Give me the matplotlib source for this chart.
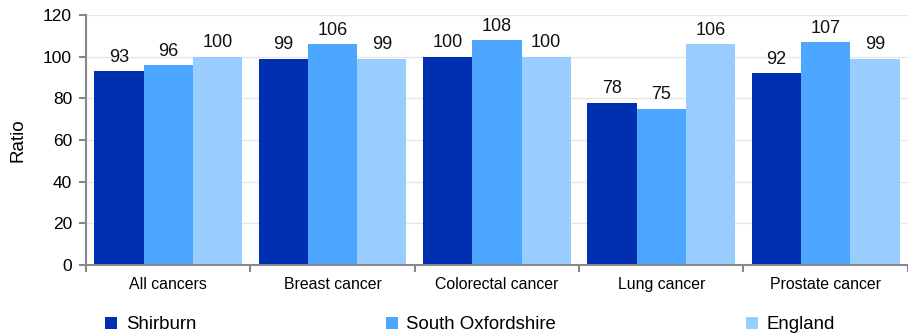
import numpy as np
import matplotlib.pyplot as plt
from matplotlib.ticker import FixedLocator

plt.rcParams['font.family'] = ['Liberation Sans', 'DejaVu Sans']

categories = ["All cancers", "Breast cancer", "Colorectal cancer", "Lung cancer", "Prostate cancer"]
shirburn = [93, 99, 100, 78, 92]
south_oxon = [96, 106, 108, 75, 107]
england = [100, 99, 100, 106, 99]

series = [("Shirburn", shirburn, "#002FB1"),
          ("South Oxfordshire", south_oxon, "#4DA6FF"),
          ("England", england, "#99CCFF")]

fig = plt.figure(figsize=(9.08, 3.35), dpi=100)
ax = fig.add_axes([0.0947, 0.209, 0.905, 0.746])

x = np.arange(len(categories))
w = 0.3
for i, (name, vals, col) in enumerate(series):
    bars = ax.bar(x + (i - 1) * w, vals, w, color=col, label=name, zorder=3)
    ax.bar_label(bars, labels=[str(v) for v in vals], padding=4, fontsize=13, color="#111111")

ax.set_xlim(-0.5, len(categories) - 0.5)
ax.set_ylim(0, 120)
ax.set_yticks(range(0, 121, 20))
ax.set_xticks(x)
ax.set_xticklabels(categories, fontsize=11.4)
ax.tick_params(axis="x", length=0, pad=9)
ax.xaxis.set_minor_locator(FixedLocator(np.arange(-0.5, len(categories), 1.0)))
ax.tick_params(axis="x", which="minor", length=5, color="#888888", width=1.5)
ax.tick_params(axis="y", labelsize=12.5, length=5, color="#888888", width=1.5, pad=5)

ax.grid(axis="y", color="#E6E6E6", linewidth=1, zorder=0)
for s in ["top", "right"]:
    ax.spines[s].set_visible(False)
for s in ["left", "bottom"]:
    ax.spines[s].set_color("#888888")
    ax.spines[s].set_linewidth(1.5)
ax.spines["bottom"].set_zorder(4)

ax.set_ylabel("Ratio", fontsize=13.5, labelpad=12)

fig.legend(loc="center left", bbox_to_anchor=(0.116, 0.03), ncol=3, frameon=False,
           fontsize=13.4, handlelength=0.65, handleheight=0.65, handletextpad=0.45,
           columnspacing=10.2, borderpad=0, borderaxespad=0)

fig.savefig("out.png", dpi=100)
